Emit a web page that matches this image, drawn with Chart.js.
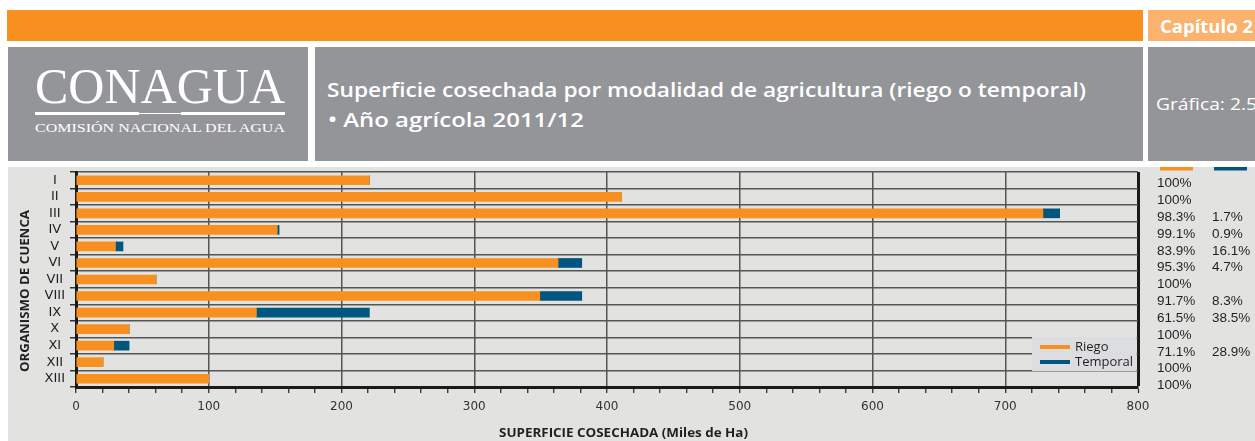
<!DOCTYPE html>
<html>
<head>
<meta charset="utf-8">
<script src="https://cdn.jsdelivr.net/npm/chart.js@4.4.1/dist/chart.umd.min.js"></script>
<style>
  html, body { margin: 0; padding: 0; background: #fff; width: 1255px; height: 441px; overflow: hidden; }
  #hdr { position: absolute; left: 0; top: 0; }
  #wrap { position: absolute; left: 8px; top: 167px; width: 1247px; height: 274px; background: #E2E2E1; }
  #chart { display: block; }
</style>
</head>
<body>
<svg id="hdr" width="1255" height="167" xmlns="http://www.w3.org/2000/svg">
  <!-- top band -->
  <rect x="7" y="10" width="1136" height="31" fill="#F7901E"/>
  <rect x="1148" y="10" width="107" height="31" fill="#FBB26C"/>
  <text x="1160" y="32.5" font-family="Open Sans" font-weight="700" font-size="18" fill="#fff"
        textLength="93" lengthAdjust="spacingAndGlyphs">Capítulo 2</text>

  <!-- header boxes -->
  <rect x="8" y="47" width="300" height="114" fill="#939598"/>
  <rect x="315" y="47" width="828" height="114" fill="#939598"/>
  <rect x="1148" y="47" width="107" height="114" fill="#939598"/>

  <!-- logo -->
  <text x="35" y="103" font-family="Liberation Serif" font-size="50" fill="#fff"
        textLength="250" lengthAdjust="spacingAndGlyphs">CONAGUA</text>
  <rect x="35" y="112" width="104" height="3" fill="#fff"/>
  <rect x="139" y="113" width="42" height="1" fill="#fff"/>
  <rect x="181" y="112" width="104" height="3" fill="#fff"/>
  <text x="35" y="132.3" font-family="Liberation Serif" font-size="13.5" fill="#fff"
        textLength="250" lengthAdjust="spacingAndGlyphs">COMISIÓN NACIONAL DEL AGUA</text>

  <!-- title -->
  <text x="327" y="97" font-family="Open Sans" font-weight="600" font-size="19" fill="#fff"
        textLength="759" lengthAdjust="spacingAndGlyphs">Superficie cosechada por modalidad de agricultura (riego o temporal)</text>
  <text x="328" y="127" font-family="Open Sans" font-weight="600" font-size="19" fill="#fff"
        textLength="256" lengthAdjust="spacingAndGlyphs">• Año agrícola 2011/12</text>

  <text x="1156" y="109.5" font-family="Open Sans" font-weight="400" font-size="17" fill="#fff"
        textLength="101" lengthAdjust="spacingAndGlyphs">Gráfica: 2.5</text>
</svg>

<div id="wrap"><canvas id="chart" width="1247" height="274"></canvas></div>

<script>
// Organismos de cuenca
const categories = ['I', 'II', 'III', 'IV', 'V', 'VI', 'VII', 'VIII', 'IX', 'X', 'XI', 'XII', 'XIII'];
// Superficie cosechada, miles de ha
const riego    = [221, 411, 728.4, 151.6, 29.7, 363.1, 60.3, 349.4, 135.9, 40, 28.45, 20.3, 100];
const temporal = [0,   0,   12.6,  1.4,   5.7,  17.9,  0,    31.6,  85.1,  0,  11.55, 0,    0];
// Escala horizontal
const xMin = 0, xMax = 800, xMajor = 100, xMinor = 20;

const ORANGE = '#F7901E';
const BLUE = '#005581';
const INK = '#231F20';

// Porcentaje de cada modalidad respecto al total del organismo
function share(part, other) {
  if (part === 0) return '';
  if (other === 0) return '100%';
  return (part / (part + other) * 100).toFixed(1) + '%';
}
const pctRiego = riego.map((r, i) => share(r, temporal[i]));
const pctTemporal = temporal.map((t, i) => share(t, riego[i]));

function fitText(ctx, text, x, y, width) {
  const w = ctx.measureText(text).width;
  ctx.save();
  ctx.translate(x, y);
  ctx.scale(width / w, 1);
  ctx.textAlign = 'center';
  ctx.fillText(text, 0, 0);
  ctx.restore();
}

const decorations = {
  id: 'decorations',
  afterDraw(chart) {
    const { ctx, chartArea: a, scales } = chart;
    const y = scales.y;

    // legend box
    const bx = a.right - 106, by = a.top + 165;
    ctx.save();
    ctx.fillStyle = '#DCDDDF';
    ctx.fillRect(bx, by, 104.5, 34);
    ctx.fillStyle = ORANGE;
    ctx.fillRect(bx + 8, by + 8, 30, 4);
    ctx.fillStyle = BLUE;
    ctx.fillRect(bx + 8, by + 23, 30, 4);
    ctx.fillStyle = INK;
    ctx.font = '13px "Open Sans"';
    ctx.textBaseline = 'alphabetic';
    ctx.textAlign = 'left';
    ctx.fillText('Riego', bx + 43, by + 14);
    ctx.fillText('Temporal', bx + 43, by + 29);

    // column swatches
    ctx.fillStyle = ORANGE;
    ctx.fillRect(a.right + 22, 0, 33, 3.5);
    ctx.fillStyle = BLUE;
    ctx.fillRect(a.right + 76, 0, 33, 3.5);

    // share columns
    ctx.fillStyle = INK;
    ctx.font = '13.5px "Liberation Sans"';
    categories.forEach((c, i) => {
      const py = y.getPixelForValue(i) + 7 + i * 0.3;
      ctx.fillText(pctRiego[i], a.right + 19, py);
      ctx.fillText(pctTemporal[i], a.right + 74, py);
    });

    // axis titles
    ctx.font = 'bold 13px "Open Sans"';
    ctx.save();
    ctx.translate(17.5, 124);
    ctx.rotate(-Math.PI / 2);
    ctx.textBaseline = 'middle';
    fitText(ctx, 'ORGANISMO DE CUENCA', 0, 0, 162);
    ctx.restore();

    ctx.font = 'bold 12px "Open Sans"';
    ctx.textBaseline = 'alphabetic';
    fitText(ctx, 'SUPERFICIE COSECHADA (Miles de Ha)', 615.5, 270.3, 249);
    ctx.restore();
  }
};

new Chart(document.getElementById('chart'), {
  type: 'bar',
  data: {
    labels: categories,
    datasets: [
      { label: 'Riego', data: riego, backgroundColor: ORANGE, barThickness: 9, borderWidth: 0 },
      { label: 'Temporal', data: temporal, backgroundColor: BLUE, barThickness: 9, borderWidth: 0 }
    ]
  },
  options: {
    indexAxis: 'y',
    responsive: false,
    animation: false,
    devicePixelRatio: 1,
    layout: { padding: { left: 0, right: 117, top: 5, bottom: 0 } },
    plugins: { legend: { display: false }, tooltip: { enabled: false } },
    scales: {
      x: {
        stacked: true,
        min: xMin,
        max: xMax,
        ticks: {
          stepSize: xMinor,
          autoSkip: false,
          maxRotation: 0,
          padding: 7,
          color: '#333',
          font: { family: 'DejaVu Sans', size: 12 },
          callback: v => (v % xMajor === 0 ? String(v) : '')
        },
        grid: {
          color: c => {
            const v = c.tick ? c.tick.value : 0;
            if (v === xMax) return '#1a1a1a';
            if (v !== xMin && v % xMajor === 0) return '#555';
            return 'rgba(0,0,0,0)';
          },
          lineWidth: c => {
            const v = c.tick ? c.tick.value : 0;
            return v === xMax ? 3 : 1.5;
          },
          tickColor: '#222',
          tickWidth: 1.2,
          tickLength: 6
        },
        border: { color: '#1a1a1a', width: 3 },
        afterFit(s) { s.height = 54; s.paddingLeft = 0; s.paddingRight = 0; }
      },
      y: {
        stacked: true,
        ticks: {
          autoSkip: false,
          color: INK,
          crossAlign: 'center',
          padding: 5,
          font: { family: 'DejaVu Sans', size: 13 }
        },
        grid: { color: '#555', lineWidth: 1.5, tickColor: '#333', tickLength: 6, offset: true },
        border: { color: '#1a1a1a', width: 3 },
        afterFit(s) { s.width = 68; s.paddingTop = 0; s.paddingBottom = 0; }
      }
    }
  },
  plugins: [decorations]
});
</script>
</body>
</html>
